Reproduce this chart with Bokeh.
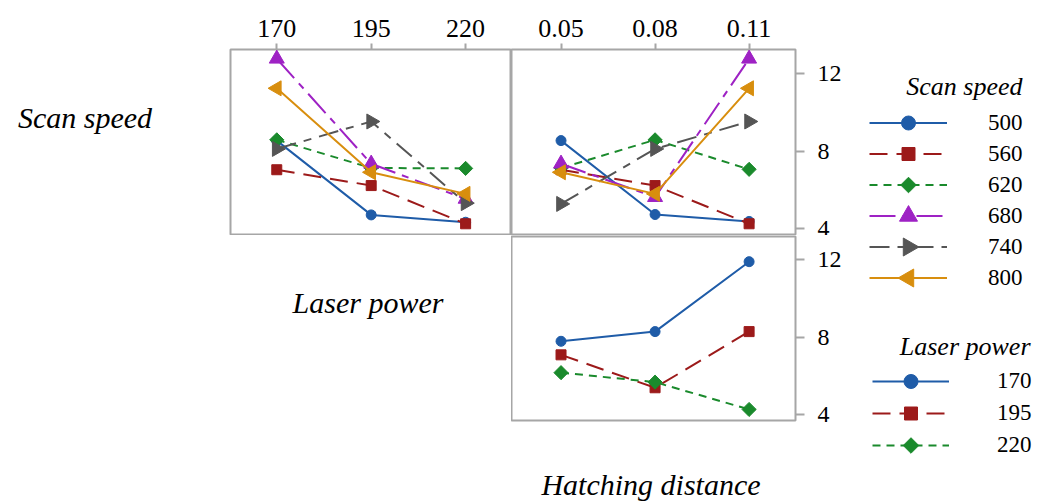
import math
from bokeh.plotting import figure
from bokeh.models import (Range1d, FixedTicker, LinearAxis, Label, Legend,
                          LegendItem, ColumnDataSource)
from bokeh.layouts import row, column
from bokeh.embed import file_html
from bokeh.resources import INLINE

# ---------------- data ----------------
laser_power = [170, 195, 220]
hatching = [0.05, 0.08, 0.11]
laser_power_labels = ["170", "195", "220"]
hatching_labels = ["0.05", "0.08", "0.11"]
y_ticks = [4, 8, 12]
scan_speeds = ["500", "560", "620", "680", "740", "800"]
lp_levels = ["170", "195", "220"]

# panel 1: mean vs laser power, one line per scan speed
lp_500 = [8.54, 4.69, 4.31]
lp_560 = [7.03, 6.21, 4.23]
lp_620 = [8.58, 7.12, 7.10]
lp_680 = [12.78, 7.34, 5.52]
lp_740 = [8.11, 9.53, 5.30]
lp_800 = [11.25, 6.90, 5.78]

# panel 2: mean vs hatching distance, one line per scan speed
hd_500 = [8.54, 4.71, 4.35]
hd_560 = [7.03, 6.21, 4.23]
hd_620 = [7.12, 8.58, 7.05]
hd_680 = [7.34, 5.61, 12.78]
hd_740 = [5.26, 8.11, 9.53]
hd_800 = [6.90, 5.78, 11.25]

# panel 3: mean vs hatching distance, one line per laser power
hp_170 = [7.80, 8.30, 11.91]
hp_195 = [7.10, 5.40, 8.30]
hp_220 = [6.18, 5.69, 4.28]

# ---------------- styles ----------------
STY = {
    "500": dict(color="#1f5ca8", dash="solid", marker="circle", size=10, lsize=14, angle=0.0),
    "560": dict(color="#9c1a1a", dash="18 9", marker="square", size=10, lsize=13, angle=0.0),
    "620": dict(color="#1a8a2c", dash="8 6", marker="square", size=10, lsize=11, angle=math.pi / 4),
    "680": dict(color="#9e22c4", dash="26 7 7 7", marker="triangle", size=15, lsize=18, angle=0.0),
    "740": dict(color="#555555", dash="20 8 8 8", marker="triangle", size=15, lsize=18, angle=-math.pi / 2),
    "800": dict(color="#d88e0e", dash="solid", marker="triangle", size=15, lsize=18, angle=math.pi / 2),
}
LP_STY = {"170": STY["500"], "195": STY["560"], "220": STY["620"]}

FONT = "Liberation Serif"
GRAY = "#a6a6a6"


def base_fig(w, h, xr, yr, left, right, top, bottom, outline=GRAY):
    p = figure(width=w, height=h, x_range=xr, y_range=yr,
               x_axis_location=None, y_axis_location=None,
               output_backend="svg", toolbar_location=None,
               min_border_left=left, min_border_right=right,
               min_border_top=top, min_border_bottom=bottom)
    for g in p.grid:
        g.visible = False
    p.outline_line_color = outline
    p.outline_line_width = 2
    p.background_fill_color = "white"
    p.border_fill_color = "white"
    return p


def style_axis(ax, size, tick_out, standoff):
    ax.axis_line_color = None
    ax.major_tick_line_color = GRAY
    ax.major_tick_line_width = 2
    ax.major_tick_out = tick_out
    ax.major_tick_in = 0
    ax.minor_tick_out = 0
    ax.minor_tick_in = 0
    ax.major_label_standoff = standoff
    ax.major_label_text_font = FONT
    ax.major_label_text_font_size = size
    ax.major_label_text_color = "black"


def add_series(p, xs, ys, st):
    src = ColumnDataSource(dict(x=xs, y=ys))
    p.line("x", "y", source=src, line_color=st["color"], line_width=2,
           line_dash=st["dash"])
    p.scatter("x", "y", source=src, marker=st["marker"], size=st["size"],
              angle=st["angle"], fill_color=st["color"], line_color=st["color"])


def blank(w, h, top=0, bottom=0):
    # a text-only area; its borders match the plots in the same row
    fh = h - top - bottom
    return base_fig(w, h, Range1d(0, w), Range1d(0, fh), 0, 0, top, bottom, outline=None), fh


def italic_label(p, x, y, text, size, align="center"):
    p.add_layout(Label(x=x, y=y, text=text, text_align=align,
                       text_baseline="middle",
                       text_font=FONT, text_font_style="italic", text_font_size=size,
                       text_color="black"))


yr_top = Range1d(3.675, 13.26)
yr_bot = Range1d(3.71, 13.21)
xr_lp = Range1d(157.75, 232.15)
xr_hd = Range1d(0.0342, 0.1248)
xr_hd2 = Range1d(0.0342, 0.1248)

lp_series = [lp_500, lp_560, lp_620, lp_680, lp_740, lp_800]
hd_series = [hd_500, hd_560, hd_620, hd_680, hd_740, hd_800]
hp_series = [hp_170, hp_195, hp_220]

# ---- top-left panel ----
tl = base_fig(283, 235, xr_lp, yr_top, 2, 0, 49, 1)
ax = LinearAxis(ticker=FixedTicker(ticks=laser_power),
                major_label_overrides=dict(zip(laser_power, laser_power_labels)))
style_axis(ax, "26px", 6, 7)
tl.add_layout(ax, "above")
for s, ys in zip(scan_speeds, lp_series):
    add_series(tl, laser_power, ys, STY[s])

# ---- top-right panel ----
tr = base_fig(334, 235, xr_hd, yr_top, 0, 50, 49, 1)
ax = LinearAxis(ticker=FixedTicker(ticks=hatching),
                major_label_overrides=dict(zip(hatching, hatching_labels)))
style_axis(ax, "26px", 6, 7)
tr.add_layout(ax, "above")
ax = LinearAxis(ticker=FixedTicker(ticks=y_ticks))
style_axis(ax, "24px", 9, 13)
tr.add_layout(ax, "right")
for s, ys in zip(scan_speeds, hd_series):
    add_series(tr, hatching, ys, STY[s])

# ---- bottom-right panel ----
br = base_fig(334, 195, xr_hd2, yr_bot, 0, 50, 1, 10)
ax = LinearAxis(ticker=FixedTicker(ticks=y_ticks))
style_axis(ax, "24px", 9, 13)
br.add_layout(ax, "right")
for s, ys in zip(lp_levels, hp_series):
    add_series(br, hatching, ys, LP_STY[s])

# ---- label areas ----
la, fh = blank(228, 235, top=49, bottom=1)
italic_label(la, 84.5, 117, "Scan speed", "30px")
lb, fh = blank(511, 195, top=1, bottom=10)
italic_label(lb, 367.5, 118.5, "Laser power", "30px")
lc, fh = blank(845, 72)
italic_label(lc, 650.5, 18, "Hatching distance", "30px")

# ---- legend area ----
NAN = float("nan")
LG_W, LG_H = 202, 502
lg, _ = blank(LG_W, LG_H)


def build_legend(levels, styles, loc, gw, gh, standoff):
    items = []
    kx, ky, ksize, kmark, kang, kcol = [], [], [], [], [], []
    n = len(levels)
    for i, s in enumerate(levels):
        st = styles[s]
        src = ColumnDataSource(dict(x=[NAN], y=[NAN]))
        r1 = lg.line("x", "y", source=src, line_color=st["color"], line_width=2,
                     line_dash=st["dash"])
        items.append(LegendItem(label=s, renderers=[r1]))
        # key marker at the centre of the legend key box
        kx.append(loc[0] + gw / 2)
        ky.append(loc[1] + n * gh - (i + 0.5) * gh)
        ksize.append(st["lsize"])
        kmark.append(st["marker"])
        kang.append(st["angle"])
        kcol.append(st["color"])
    leg = Legend(items=items, location=loc, glyph_width=gw, glyph_height=gh,
                 label_height=gh, spacing=0, label_standoff=standoff,
                 padding=0, margin=0, border_line_color=None,
                 background_fill_alpha=0, label_text_font=FONT,
                 label_text_font_size="23px", label_text_color="black")
    lg.add_layout(leg)
    ksrc = ColumnDataSource(dict(x=kx, y=ky, size=ksize, marker=kmark, angle=kang, color=kcol))
    lg.scatter("x", "y", source=ksrc, size="size", marker="marker", angle="angle",
               fill_color="color", line_color="color")


build_legend(scan_speeds, STY, (24, 209), 78, 31, 41)
build_legend(lp_levels, LP_STY, (27, 41), 77, 32, 48)
italic_label(lg, 177, 416, "Scan speed", "26px", align="right")
italic_label(lg, 185, 156, "Laser power", "26px", align="right")

left_col = column(row(la, tl, tr), row(lb, br), lc)
page = row(left_col, lg)

open("out.html", "w").write(file_html(page, INLINE))
